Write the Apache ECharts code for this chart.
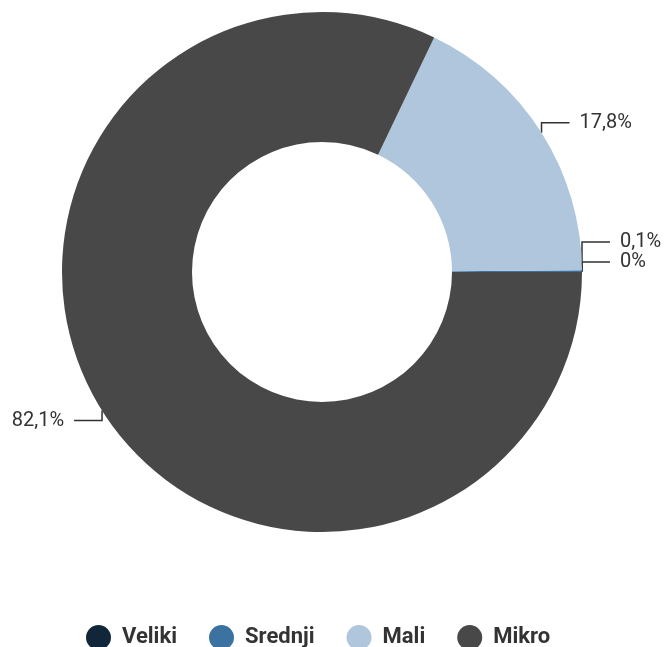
<!DOCTYPE html>
<html>
<head>
<meta charset="utf-8">
<script src="https://cdn.jsdelivr.net/npm/echarts@6/dist/echarts.min.js"></script>
<style>
  html, body { margin: 0; padding: 0; background: #fff; }
  #chart { width: 664px; height: 647px; }
</style>
</head>
<body>
<div id="chart"></div>
<script>
// podaci
const categories = ['Veliki', 'Srednji', 'Mali', 'Mikro']
const values = [0, 0.1, 17.8, 82.1]
const colors = ['#12263a', '#3b72a0', '#afc6dc', '#484848']

const myChart = echarts.init(document.getElementById('chart'))

// label lines: vertical first, then horizontal
let placed = []
function layoutLabel (params) {
  const pts = params.labelLinePoints
  if (!pts) return {}
  if (params.dataIndex === 0) placed = []
  const p0 = pts[0]
  const up = pts[1][1] - p0[1] <= 0
  const right = pts[1][0] - p0[0] >= 0
  let y = up ? p0[1] - 10 : p0[1] + 10
  // izbjegni preklapanje
  for (let k = 0; k < placed.length; k++) {
    const o = placed[k]
    if (o.right === right && Math.abs(o.y - y) < 20) {
      y = up ? o.y - 20 : o.y + 20
    }
  }
  placed.push({ y: y, right: right })
  const x2 = right ? p0[0] + 28 : p0[0] - 28
  return {
    x: right ? x2 + 10 : x2 - 10,
    y: y,
    align: right ? 'left' : 'right',
    verticalAlign: 'middle',
    labelLinePoints: [[p0[0], p0[1]], [p0[0], y], [x2, y]]
  }
}

const option = {
  animation: false,
  color: colors,
  legend: {
    bottom: -3,
    left: 86,
    padding: 0,
    icon: 'circle',
    itemWidth: 25,
    itemHeight: 25,
    itemGap: 32,
    data: categories,
    textStyle: {
      fontFamily: 'Roboto',
      fontWeight: 'bold',
      fontSize: 22,
      color: '#333',
      padding: [0, 0, 0, 6]
    }
  },
  series: [
    {
      type: 'pie',
      center: [322, 272],
      radius: [130, 260],
      startAngle: 0,
      clockwise: false,
      avoidLabelOverlap: false,
      minShowLabelAngle: 0,
      label: {
        show: true,
        fontFamily: 'Roboto',
        fontSize: 20,
        color: '#333',
        formatter: function (p) {
          return String(p.value).replace('.', ',') + '%'
        }
      },
      labelLine: {
        show: true,
        length: 10,
        length2: 28,
        lineStyle: { color: '#333', width: 1.5 }
      },
      labelLayout: layoutLabel,
      emphasis: { disabled: true },
      data: categories.map((name, i) => ({ name: name, value: values[i] }))
    }
  ]
}

myChart.setOption(option)
window.addEventListener('resize', () => {
  myChart.resize()
})
</script>
</body>
</html>
